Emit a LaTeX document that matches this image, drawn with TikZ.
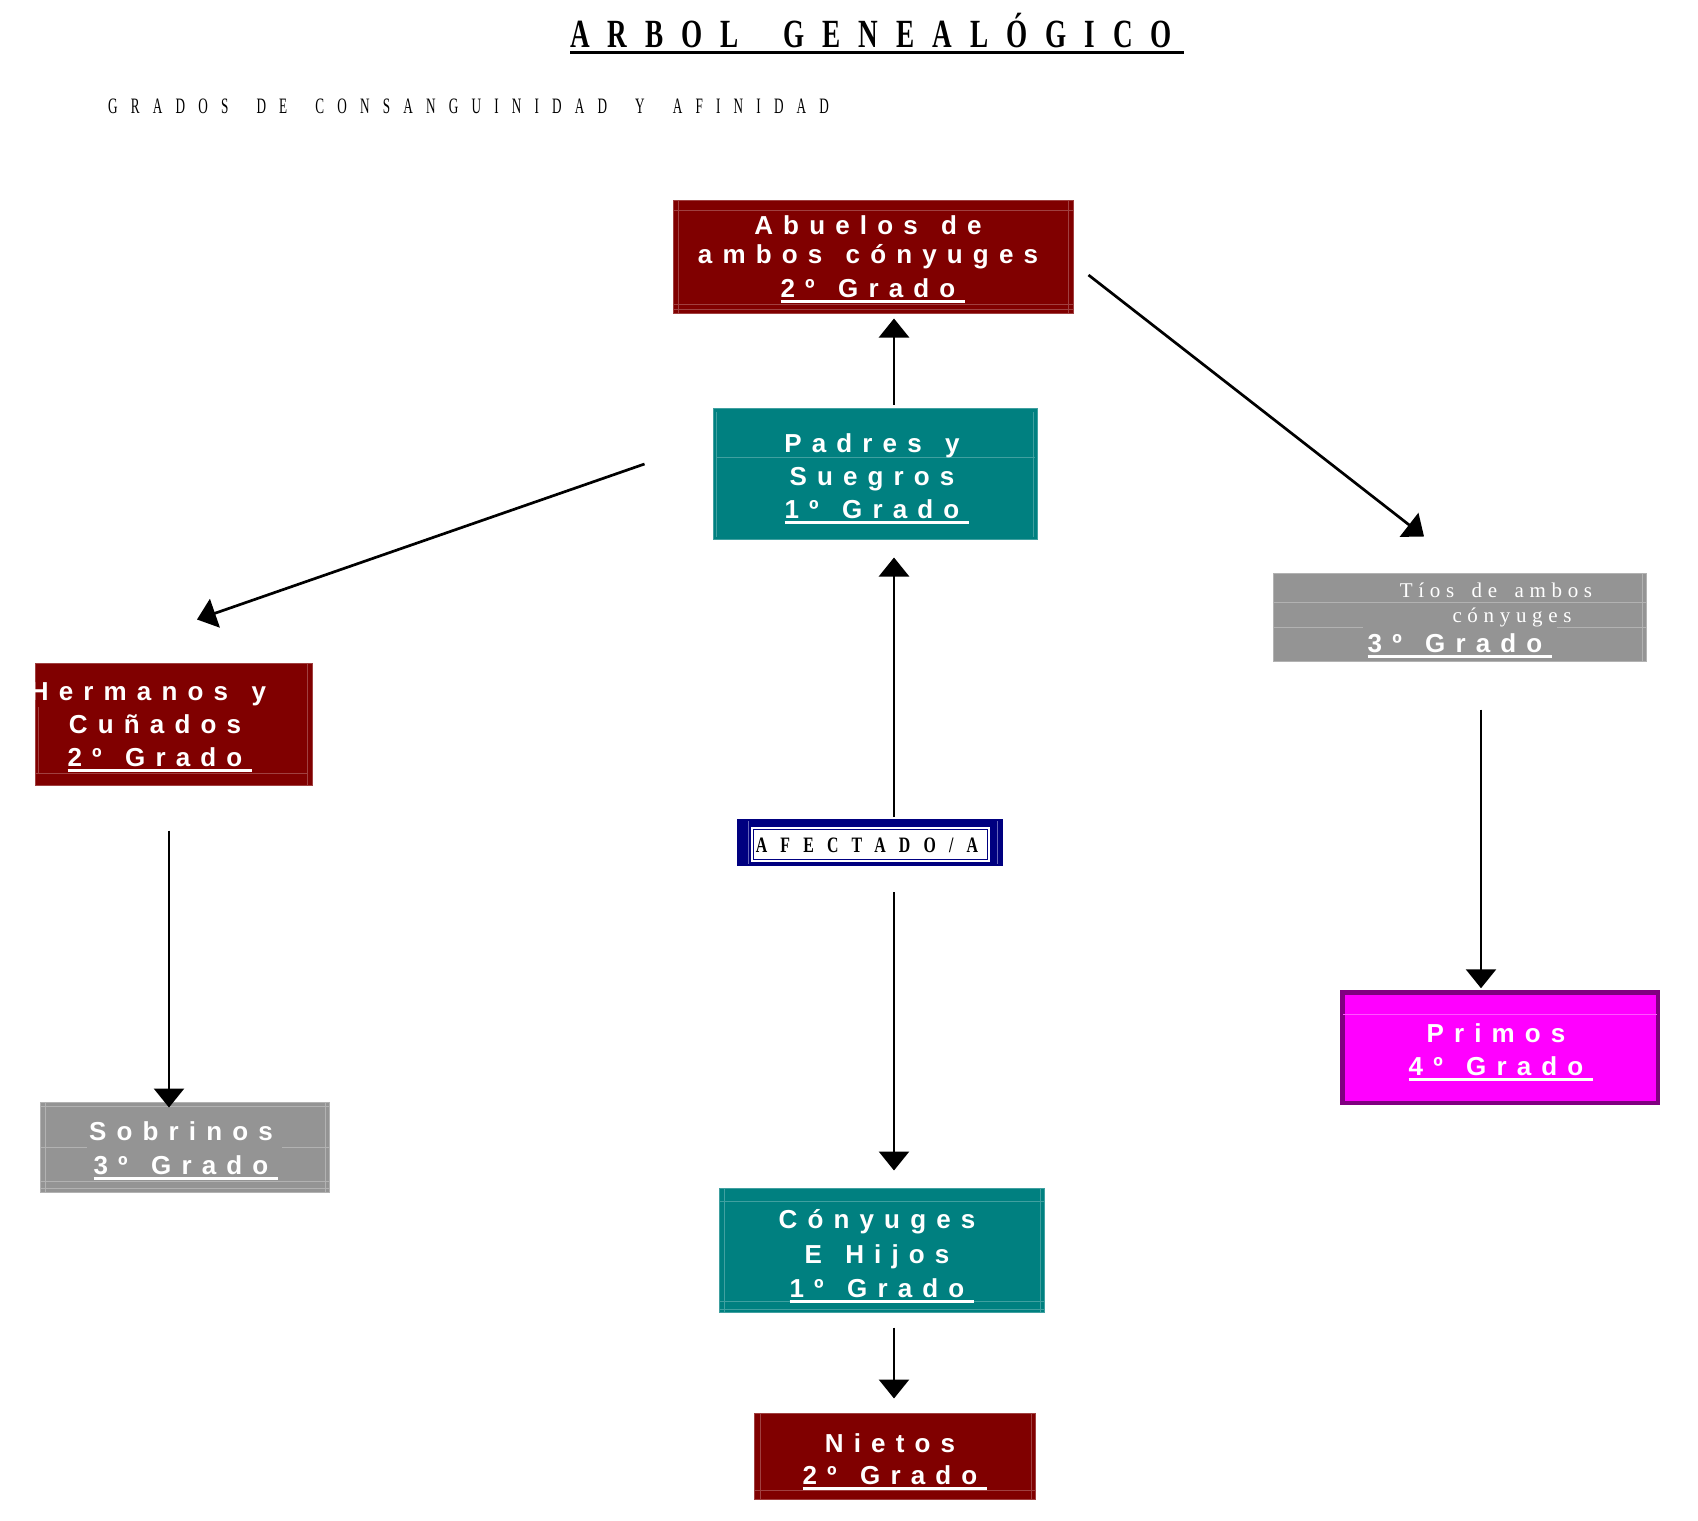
\documentclass[tikz,border=0pt]{standalone}
\usepackage{fontspec}
\setmainfont{Liberation Serif}
\newfontfamily\boxsans[LetterSpace=39,WordSpace=1.35]{Liberation Sans}
\newfontfamily\titleserif[FakeStretch=0.68,LetterSpace=45,WordSpace=1.8]{Liberation Serif}
\newfontfamily\subserif[FakeStretch=0.6,LetterSpace=60,WordSpace=1.7]{Liberation Serif}
\newfontfamily\afecserif[FakeStretch=0.72,LetterSpace=60]{Liberation Serif}
\newfontfamily\tiosserif[LetterSpace=27,WordSpace=1.6]{Liberation Serif}
\usetikzlibrary{arrows.meta}
\definecolor{dred}{HTML}{800000}
\definecolor{dredline}{HTML}{A04040}
\definecolor{teal2}{HTML}{008080}
\definecolor{tealline}{HTML}{40A0A0}
\definecolor{gray2}{HTML}{949494}
\definecolor{grayline}{HTML}{B2B2B2}
\definecolor{mag}{HTML}{FF00FF}
\definecolor{purp}{HTML}{800080}
\definecolor{magline}{HTML}{FF55FF}
\definecolor{navy2}{HTML}{000080}
\definecolor{navyline}{HTML}{6666B8}
\newcommand\ulgrado[2][10pt]{\setbox0=\hbox{#2}\rlap{\rule[-6pt]{\dimexpr\wd0+#1\relax}{3pt}}\box0}
\tikzset{
  box/.style={rectangle, inner sep=0pt, outer sep=0pt, line width=1pt},
  redbox/.style={box, fill=dred, draw=dredline},
  tealbox/.style={box, fill=teal2, draw=tealline},
  graybox/.style={box, fill=gray2, draw=grayline},
  magbox/.style={box, fill=mag, draw=purp, line width=4.5pt},
  navybox/.style={box, fill=navy2},
  redrule/.style={draw=dredline, line width=0.8pt},
  tealrule/.style={draw=tealline, line width=0.8pt},
  grayrule/.style={draw=grayline, line width=0.8pt},
  magrule/.style={draw=magline, line width=0.8pt},
  boxtxt/.style={inner sep=0pt, anchor=base, text=white, font=\boxsans\bfseries\fontsize{26}{30}\selectfont},
  tiostxt/.style={inner sep=0pt, anchor=base, text=white, font=\tiosserif\fontsize{21}{24}\selectfont},
  titletxt/.style={inner sep=0pt, anchor=base, font=\titleserif\bfseries\fontsize{40}{44}\selectfont},
  subtxt/.style={inner sep=0pt, anchor=base west, font=\subserif\fontsize{22}{26}\selectfont},
  afectxt/.style={inner sep=0pt, anchor=base, font=\afecserif\bfseries\fontsize{22}{26}\selectfont},
  arr/.style={-{Triangle[width=30pt,length=19pt]}, line width=2.7pt},
}
\begin{document}
\begin{tikzpicture}[x=1pt,y=-1pt]
\useasboundingbox[fill=white] (0,0) rectangle (1698,1521);

% title and subtitle
\node[titletxt] (title) at (871,47.5) {\ulgrado[12pt]{ARBOL GENEALÓGICO}};
\node[subtxt] (subtitle) at (108,113) {GRADOS DE CONSANGUINIDAD Y AFINIDAD};

% boxes
\node[redbox, minimum width=400pt, minimum height=113pt] (abuelos) at (873.5,257) {};
\node[tealbox, minimum width=324pt, minimum height=131pt] (padres) at (875.5,474) {};
\node[graybox, minimum width=373pt, minimum height=88pt] (tios) at (1460,617.5) {};
\node[redbox, minimum width=277pt, minimum height=122pt] (hermanos) at (174,724.5) {};
\node[navybox, minimum width=266pt, minimum height=47pt] (afectado) at (870,842.5) {};
\node[magbox, minimum width=315.5pt, minimum height=110.5pt] (primos) at (1500,1047.5) {};
\node[graybox, minimum width=289pt, minimum height=90pt] (sobrinos) at (185,1147.5) {};
\node[tealbox, minimum width=325pt, minimum height=124pt] (conyuges) at (882,1250.5) {};
\node[redbox, minimum width=281pt, minimum height=86pt] (nietos) at (895,1456.5) {};

% faint inner rules of the boxes
\draw[redrule] (674,210) -- (1073,210) (674,304) -- (1073,304) (674,309) -- (1073,309)
  (678,201) -- (678,313) (1068,201) -- (1068,313);
\draw[tealrule] (716,457) -- (1035,457) (716,412) -- (716,537) (1033,412) -- (1033,537);
\draw[grayrule] (1274,602) -- (1646,602) (1274,627) -- (1363,627) (1557,627) -- (1646,627)
  (1642,574) -- (1642,661);
\draw[redrule] (36,773) -- (308,773) (307,664) -- (307,785) (38,707) -- (38,773);
\draw[grayrule] (41,1106) -- (329,1106) (41,1147) -- (87,1147) (282,1147) -- (329,1147)
  (41,1181) -- (329,1181) (41,1188) -- (329,1188) (45,1103) -- (45,1192) (325,1103) -- (325,1192);
\draw[tealrule] (720,1201) -- (1044,1201) (720,1301) -- (1044,1301) (720,1309) -- (1044,1309)
  (724,1189) -- (724,1312) (1040,1189) -- (1040,1312);
\draw[redrule] (755,1490) -- (1035,1490) (760,1414) -- (760,1499) (1031,1414) -- (1031,1499);
\draw[magrule] (1343,1014) -- (1657,1014);

% AFECTADO/A frame
\fill[white] (751,827) rectangle (990,862);
\draw[navy2, line width=1.3pt] (753.5,829.5) rectangle (987.5,859.5);
\draw[navyline, line width=0.8pt] (748,821) -- (748,864) (997,821) -- (997,864);
\node[afectxt] (afectxt) at (867,852) {AFECTADO/A};

% box texts
\node[boxtxt] (ab1) at (868,234) {Abuelos de};
\node[boxtxt] (ab2) at (868,263) {ambos cónyuges};
\node[boxtxt] (ab3) at (868,297) {\ulgrado{2º Grado}};

\node[boxtxt] (pa1) at (872,452) {Padres y};
\node[boxtxt] (pa2) at (872,485) {Suegros};
\node[boxtxt] (pa3) at (872,518) {\ulgrado{1º Grado}};

\node[tiostxt] (ti1) at (1496,597) {Tíos de ambos};
\node[tiostxt] (ti2) at (1512,622) {cónyuges};
\node[boxtxt] (ti3) at (1455,652) {\ulgrado{3º Grado}};

\begin{scope}
\clip (hermanos.south west) rectangle (hermanos.north east);
\node[boxtxt] (he1) at (148,700) {Hermanos y};
\end{scope}
\node[boxtxt] (he2) at (155,733) {Cuñados};
\node[boxtxt] (he3) at (155,766) {\ulgrado{2º Grado}};

\node[boxtxt] (so1) at (181,1140) {Sobrinos};
\node[boxtxt] (so2) at (181,1174) {\ulgrado{3º Grado}};

\node[boxtxt] (pr1) at (1496,1042) {Primos};
\node[boxtxt] (pr2) at (1496,1075) {\ulgrado{4º Grado}};

\node[boxtxt] (co1) at (877,1228) {Cónyuges};
\node[boxtxt] (co2) at (877,1263) {E Hijos};
\node[boxtxt] (co3) at (877,1297) {\ulgrado{1º Grado}};

\node[boxtxt] (ni1) at (890,1452) {Nietos};
\node[boxtxt] (ni2) at (890,1484) {\ulgrado{2º Grado}};

% connectors
\coordinate (colA) at (894,0);
\coordinate (colH) at (169,0);
\coordinate (colT) at (1481,0);
\draw[arr, shorten <=4pt, shorten >=5pt] (padres.north -| colA) -- (abuelos.south -| colA);
\draw[arr, shorten <=2pt, shorten >=18pt] (afectado.north -| colA) -- (padres.south -| colA);
\draw[arr, shorten <=26pt, shorten >=18pt] (afectado.south -| colA) -- (conyuges.north -| colA);
\draw[arr, shorten <=15pt, shorten >=15pt] (conyuges.south -| colA) -- (nietos.north -| colA);
\draw[arr, shorten <=45pt, shorten >=-5pt] (hermanos.south -| colH) -- (sobrinos.north -| colH);
\draw[arr, shorten <=48pt, shorten >=4pt] (tios.south -| colT) -- (primos.north -| colT);
\coordinate (d1s) at ([shift={(15,18)}]abuelos.east);
\coordinate (d1e) at ([shift={(-36,-37)}]tios.north);
\draw[arr] (d1s) -- (d1e);
\coordinate (d2s) at ([shift={(-69,-10)}]padres.west);
\coordinate (d2e) at ([shift={(23,-44)}]hermanos.north);
\draw[arr] (d2s) -- (d2e);
\end{tikzpicture}
\end{document}
